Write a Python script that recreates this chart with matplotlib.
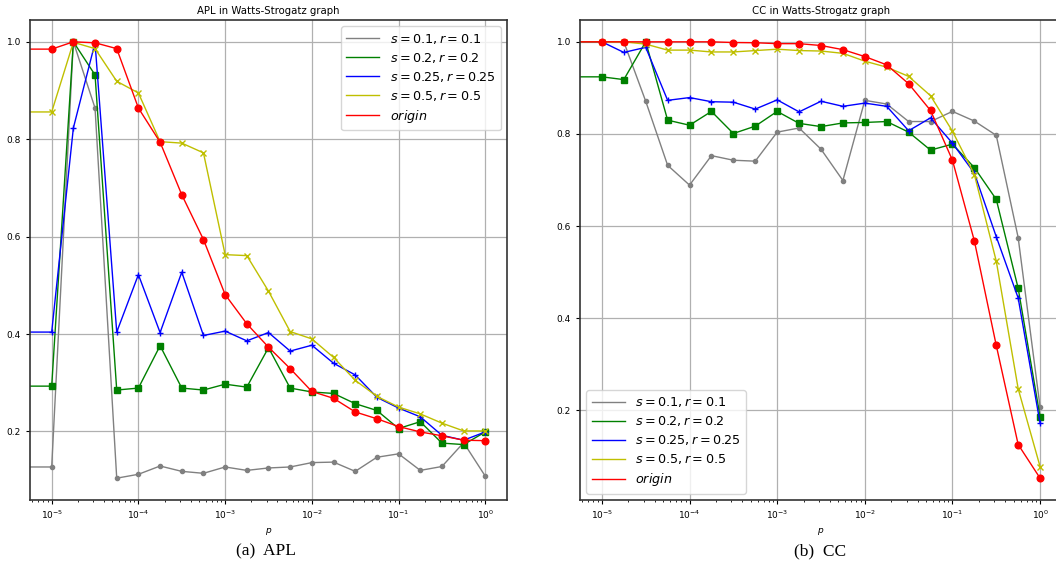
import matplotlib
matplotlib.use("Agg")
import matplotlib.pyplot as plt

# x grid (p), first entry is p = 0
p = [0, 1e-5, 1.778e-5, 3.162e-5, 5.623e-5, 1e-4, 1.778e-4, 3.162e-4, 5.623e-4,
     1e-3, 1.778e-3, 3.162e-3, 5.623e-3, 1e-2, 1.778e-2, 3.162e-2, 5.623e-2,
     1e-1, 1.778e-1, 3.162e-1, 5.623e-1, 1.0]

labels = ["$s=0.1, r=0.1$", "$s=0.2, r=0.2$", "$s=0.25, r=0.25$",
          "$s=0.5, r=0.5$", "$origin$"]
colors = ["grey", "g", "b", "y", "r"]
markers = [".", "s", "+", "x", "o"]

# APL values
apl_s01 = [0.127, 0.127, 1.0, 0.864, 0.104, 0.112, 0.129, 0.118, 0.114, 0.127, 0.120,
           0.125, 0.127, 0.136, 0.137, 0.118, 0.147, 0.154, 0.120, 0.128, 0.177, 0.108]
apl_s02 = [0.293, 0.293, 1.0, 0.932, 0.285, 0.289, 0.376, 0.289, 0.285, 0.297, 0.291,
           0.372, 0.289, 0.281, 0.278, 0.257, 0.243, 0.206, 0.220, 0.176, 0.173, 0.199]
apl_s025 = [0.404, 0.404, 0.823, 0.998, 0.404, 0.522, 0.403, 0.527, 0.397, 0.406, 0.386,
            0.403, 0.365, 0.377, 0.340, 0.316, 0.270, 0.248, 0.230, 0.192, 0.182, 0.199]
apl_s05 = [0.856, 0.856, 0.999, 0.986, 0.919, 0.895, 0.795, 0.792, 0.772, 0.563, 0.561,
           0.488, 0.405, 0.390, 0.352, 0.305, 0.272, 0.250, 0.236, 0.217, 0.201, 0.201]
apl_origin = [0.985, 0.985, 1.0, 0.998, 0.986, 0.864, 0.794, 0.686, 0.594, 0.481, 0.421,
              0.373, 0.329, 0.282, 0.268, 0.240, 0.226, 0.210, 0.199, 0.191, 0.182, 0.181]

# CC values
cc_s01 = [1.0, 1.0, 1.0, 0.871, 0.732, 0.689, 0.753, 0.743, 0.741, 0.804, 0.813,
          0.767, 0.699, 0.873, 0.865, 0.827, 0.827, 0.849, 0.828, 0.797, 0.575, 0.207]
cc_s02 = [0.924, 0.924, 0.918, 1.0, 0.830, 0.819, 0.849, 0.801, 0.817, 0.849, 0.823,
          0.816, 0.824, 0.825, 0.827, 0.804, 0.765, 0.778, 0.727, 0.658, 0.465, 0.186]
cc_s025 = [1.0, 1.0, 0.977, 0.988, 0.873, 0.879, 0.870, 0.869, 0.854, 0.874, 0.848,
           0.871, 0.860, 0.867, 0.860, 0.807, 0.835, 0.780, 0.715, 0.577, 0.444, 0.172]
cc_s05 = [1.0, 1.0, 1.0, 0.995, 0.982, 0.982, 0.978, 0.978, 0.981, 0.984, 0.981,
          0.980, 0.975, 0.958, 0.945, 0.925, 0.883, 0.806, 0.712, 0.524, 0.247, 0.078]
cc_origin = [1.0, 1.0, 1.0, 1.0, 1.0, 1.0, 1.0, 0.9985, 0.998, 0.996, 0.996,
             0.992, 0.983, 0.968, 0.950, 0.909, 0.851, 0.743, 0.568, 0.341, 0.126, 0.053]

W, H = 1056, 564
fig = plt.figure(figsize=(W / 100, H / 100), dpi=100)

def axes_px(l, r, t, b):
    return fig.add_axes([l / W, (H - b) / H, (r - l) / W, (b - t) / H])

ax1 = axes_px(30, 507, 20, 500)
ax2 = axes_px(580, 1062, 20, 500)

def draw(ax, series, title, legend_loc):
    for ys, lab, c, m in zip(series, labels, colors, markers):
        ax.plot(p, ys, color=c, lw=1.0, label=lab)
        ms = 6 if m == "." else 4.8
        ax.plot(p, ys, color=c, marker=m, ms=ms, mew=1.0, linestyle="none")
    ax.set_xscale("log")
    ax.grid(True, which="major", color="#b0b0b0", lw=0.9)
    ax.set_axisbelow(True)
    ax.set_title(title, fontsize=7.3, pad=4)
    ax.set_xlabel("$p$", fontsize=6.5, labelpad=3)
    ax.tick_params(labelsize=6.5, length=3, width=0.8)
    ax.tick_params(which="minor", length=1.5, width=0.6)
    ax.set_yticks([0.2, 0.4, 0.6, 0.8, 1.0])
    for s in ax.spines.values():
        s.set_color("#333333")
        s.set_linewidth(1.2)
    ax.legend(loc=legend_loc, fontsize=9.2, handlelength=2.6, borderaxespad=0.5,
              labelspacing=0.4, framealpha=0.8)

draw(ax1, [apl_s01, apl_s02, apl_s025, apl_s05, apl_origin],
     "APL in Watts-Strogatz graph", "upper right")
draw(ax2, [cc_s01, cc_s02, cc_s025, cc_s05, cc_origin],
     "CC in Watts-Strogatz graph", "lower left")

fig.text(266 / W, 1 - 551 / H, "(a)  APL", family="Liberation Serif",
         fontsize=12.5, ha="center", va="center")
fig.text(820 / W, 1 - 551 / H, "(b)  CC", family="Liberation Serif",
         fontsize=12.5, ha="center", va="center")

fig.savefig("out.png", dpi=100)
